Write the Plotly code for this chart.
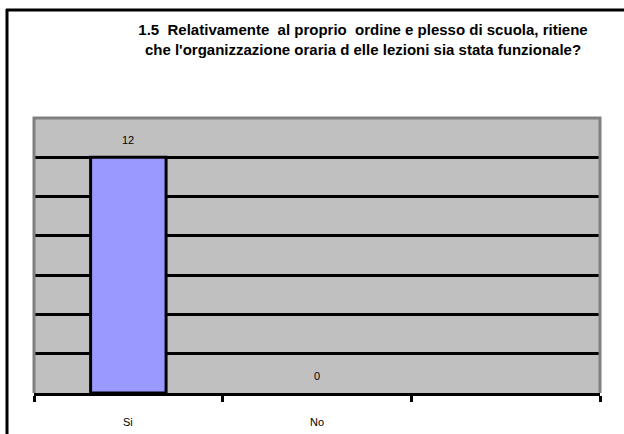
import plotly.graph_objects as go

categories = ["Si", "No", " "]
values = [12, 0, None]
bar_labels = ["12", "0", ""]
title_lines = [
    "1.5  Relativamente  al proprio  ordine e plesso di scuola, ritiene",
    "che l'organizzazione oraria d elle lezioni sia stata funzionale?",
]

FONT = "Liberation Sans, Arial, sans-serif"

fig = go.Figure()
fig.add_trace(go.Bar(
    x=categories,
    y=values,
    width=0.4,
    marker=dict(color="#9999ff",
                line=dict(color="black", width=[3 if v else 0 for v in values])),
    hoverinfo="skip",
))

ml, mr, mt, mb = 34, 24, 118, 41
W, H = 624, 434
pw, ph = W - ml - mr, H - mt - mb

def px_x(p):
    return (p - ml) / pw

def px_y(p):
    return (H - mb - p) / ph

annotations = []
for c, v, t in zip(categories, values, bar_labels):
    if v is not None:
        annotations.append(dict(
            x=c, y=v, xref="x", yref="y", text=t, showarrow=False,
            yanchor="middle", yshift=17,
            font=dict(family=FONT, size=11, color="black"),
        ))
    # category label
    annotations.append(dict(
        x=c, y=px_y(422), xref="x", yref="paper", text=c, showarrow=False,
        yanchor="middle", xanchor="center",
        font=dict(family=FONT, size=11, color="black"),
    ))

shapes = [
    # outer frame (left and top edges)
    dict(type="line", xref="paper", yref="paper", x0=px_x(7), x1=px_x(7),
         y0=px_y(9), y1=px_y(H), line=dict(color="black", width=3)),
    dict(type="line", xref="paper", yref="paper", x0=px_x(6), x1=px_x(W),
         y0=px_y(10), y1=px_y(10), line=dict(color="black", width=3)),
    # gray plot border (left, top, right)
    dict(type="path", xref="paper", yref="paper",
         path="M 0,0 L 0,1 L 1,1 L 1,0", line=dict(color="#808080", width=3),
         layer="above"),
]

fig.update_layout(
    width=W, height=H,
    margin=dict(l=ml, r=mr, t=mt, b=mb, pad=0),
    paper_bgcolor="white",
    plot_bgcolor="#c0c0c0",
    showlegend=False,
    title=dict(
        text="<br>".join(title_lines),
        x=363 / W, xanchor="center", xref="container",
        y=1 - 35 / H, yanchor="middle", yref="container",
        font=dict(family=FONT, size=15, color="black", weight="bold"),
    ),
    xaxis=dict(
        type="category", range=[-0.5, 2.5], tickson="boundaries",
        ticks="outside", ticklen=6, tickwidth=3, tickcolor="black",
        showline=True, linecolor="black", linewidth=3,
        showgrid=False, showticklabels=False,
    ),
    yaxis=dict(
        range=[0, 14], dtick=2, showticklabels=False, ticks="",
        showgrid=True, gridcolor="black", gridwidth=3, zeroline=False,
        showline=False,
    ),
    annotations=annotations,
    shapes=shapes,
)

fig.write_html("out.html", config={"displayModeBar": False},
               post_script="document.body.style.margin='0';")
